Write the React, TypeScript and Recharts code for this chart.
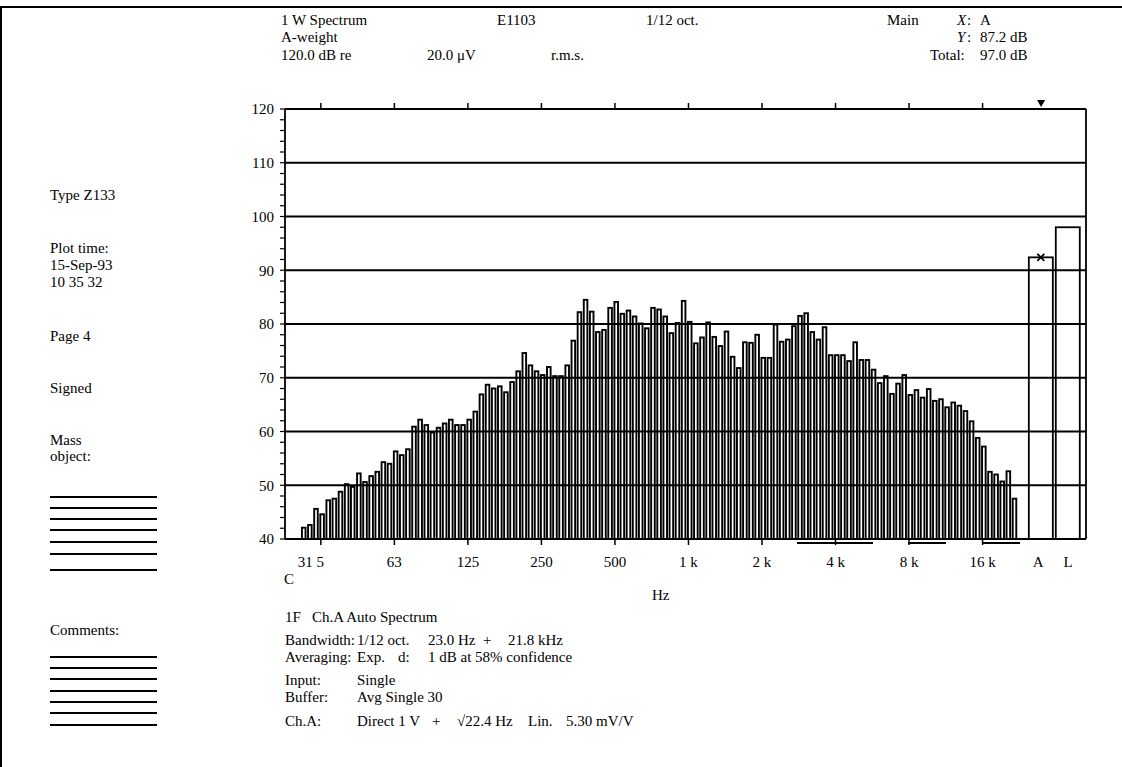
import React from 'react'
import { ComposedChart, Bar, XAxis, YAxis, ReferenceLine } from 'recharts'

// 1/12-octave band levels in dB, lowest band first
const bandLevels = [
  42.1, 42.6, 45.6, 44.6, 47.2, 47.5, 48.8, 50.2, 49.7, 52.2,
  50.6, 51.7, 52.5, 54.3, 54.0, 56.3, 55.6, 56.7, 60.9, 62.2,
  61.2, 59.8, 60.7, 61.5, 62.2, 61.2, 61.2, 62.2, 63.7, 66.9,
  68.7, 68.0, 68.4, 67.3, 69.2, 71.2, 74.6, 72.3, 71.2, 70.5,
  72.0, 70.3, 70.3, 72.3, 76.9, 82.2, 84.5, 82.3, 78.5, 78.9,
  83.0, 84.1, 81.9, 82.5, 81.4, 80.1, 79.2, 83.0, 82.7, 81.4,
  78.3, 80.2, 84.3, 80.4, 76.4, 77.5, 80.3, 77.6, 75.9, 78.6,
  73.9, 71.8, 76.6, 76.5, 78.0, 73.7, 73.7, 79.9, 76.7, 77.1,
  79.6, 81.5, 82.0, 78.5, 77.1, 79.4, 74.2, 74.2, 74.2, 73.1,
  76.6, 73.3, 73.3, 71.5, 69.0, 70.3, 67.0, 68.9, 70.5, 66.8,
  67.7, 66.3, 67.9, 65.7, 66.0, 64.5, 65.4, 64.8, 63.8, 61.9,
  58.8, 57.2, 52.5, 52.0, 50.7, 52.6, 47.5,
]

// overall levels drawn at the right of the spectrum
const totalLabels = ['A', 'L']
const totalLevels = [92.4, 98.0]
const totalPositions = [120.3, 124.7]

const octaveLabels = ['31 5', '63', '125', '250', '500', '1 k', '2 k', '4 k', '8 k', '16 k']
const octaveTicks = [2.75, 14.75, 26.75, 38.75, 50.75, 62.75, 74.75, 86.75, 98.75, 110.75]

const gridLevels = [50, 60, 70, 80, 90, 100, 110]
const yTicks = [
  40, 42, 44, 46, 48, 50, 52, 54, 56, 58, 60, 62, 64, 66, 68, 70, 72, 74, 76, 78, 80,
  82, 84, 86, 88, 90, 92, 94, 96, 98, 100, 102, 104, 106, 108, 110, 112, 114, 116, 118, 120,
]

const X_DOMAIN: [number, number] = [-3.1, 127.63]
const FONT = "'Liberation Serif', 'DejaVu Serif', serif"

const chartData = [
  ...bandLevels.map((level, i) => ({ idx: i, level, wide: false, cursor: false })),
  ...totalLevels.map((level, i) => ({ idx: totalPositions[i], level, wide: true, cursor: i === 0 })),
]

function BandShape(props: any) {
  const { x, y, width, height, payload } = props
  if (payload && payload.wide) {
    const cx = x + width / 2
    const w = 24
    return (
      <g>
        <rect x={cx - w / 2} y={y} width={w} height={height} fill="none" stroke="#000" strokeWidth={1.8} />
        {payload.cursor && (
          <g stroke="#000" strokeWidth={1.8}>
            <line x1={cx - 3.5} y1={y - 3.5} x2={cx + 3.5} y2={y + 3.5} />
            <line x1={cx - 3.5} y1={y + 3.5} x2={cx + 3.5} y2={y - 3.5} />
          </g>
        )}
      </g>
    )
  }
  return <rect x={x} y={y} width={width} height={height} fill="none" stroke="#000" strokeWidth={1.9} />
}

function BottomTick(props: any) {
  const { x, y, payload } = props
  const oi = octaveTicks.indexOf(payload.value)
  const ti = totalPositions.indexOf(payload.value)
  const label = oi >= 0 ? octaveLabels[oi] : ti >= 0 ? totalLabels[ti] : ''
  const dx = oi === 0 ? -10 : ti === 0 ? -3 : 0
  return (
    <g>
      {oi >= 0 && <line x1={x} y1={y} x2={x} y2={y + 6} stroke="#000" strokeWidth={1.5} />}
      <text x={x + dx} y={y + 28} textAnchor="middle" fill="#000" fontSize={15} fontFamily={FONT}>
        {label}
      </text>
    </g>
  )
}

function TopTick(props: any) {
  const { x, y, payload } = props
  if (totalPositions.indexOf(payload.value) >= 0) {
    return <path d={`M${x - 4},${y - 9} L${x + 4},${y - 9} L${x},${y - 2} Z`} fill="#000" />
  }
  return <line x1={x} y1={y} x2={x} y2={y - 6} stroke="#000" strokeWidth={1.5} />
}

function T({ x, y, children, italic }: { x: number; y: number; children: React.ReactNode; italic?: boolean }) {
  return (
    <div
      style={{
        position: 'absolute',
        left: x,
        top: y - 9,
        fontSize: 15,
        lineHeight: '18px',
        whiteSpace: 'pre',
        fontStyle: italic ? 'italic' : 'normal',
      }}
    >
      {children}
    </div>
  )
}

function Rule({ x, y, w, h = 1.6 }: { x: number; y: number; w: number; h?: number }) {
  return <div style={{ position: 'absolute', left: x, top: y, width: w, height: h, background: '#000' }} />
}

const massLines = [496, 507, 518, 529, 541, 553, 569]
const commentLines = [656, 667, 678, 690, 701, 712, 724]

export default function App() {
  return (
    <div
      style={{
        position: 'absolute',
        left: 0,
        top: 0,
        width: 1122,
        height: 767,
        background: '#fff',
        color: '#000',
        fontFamily: FONT,
        overflow: 'hidden',
      }}
    >
      {/* page frame */}
      <Rule x={0} y={6} w={1122} h={2} />
      <div style={{ position: 'absolute', left: 0, top: 6, width: 2, height: 761, background: '#000' }} />

      {/* header */}
      <T x={281} y={20}>1 W Spectrum</T>
      <T x={497} y={20}>E1103</T>
      <T x={646} y={20}>1/12 oct.</T>
      <T x={887} y={20}>Main</T>
      <T x={957} y={20} italic>X</T>
      <T x={967} y={20}>:</T>
      <T x={980} y={20}>A</T>
      <T x={281} y={37}>A-weight</T>
      <T x={957} y={37} italic>Y</T>
      <T x={967} y={37}>:</T>
      <T x={980} y={37}>87.2 dB</T>
      <T x={281} y={55}>120.0 dB re</T>
      <T x={427} y={55}>20.0 μV</T>
      <T x={551} y={55}>r.m.s.</T>
      <T x={930} y={55}>Total:</T>
      <T x={980} y={55}>97.0 dB</T>

      {/* left column */}
      <T x={50} y={195}>Type Z133</T>
      <T x={50} y={248}>Plot time:</T>
      <T x={50} y={265}>15-Sep-93</T>
      <T x={50} y={282}>10 35 32</T>
      <T x={50} y={336}>Page 4</T>
      <T x={50} y={388}>Signed</T>
      <T x={50} y={440}>Mass</T>
      <T x={50} y={456}>object:</T>
      {massLines.map((y) => (
        <Rule key={y} x={50} y={y} w={107} />
      ))}
      <T x={50} y={630}>Comments:</T>
      {commentLines.map((y) => (
        <Rule key={y} x={50} y={y} w={107} />
      ))}

      <div style={{ position: 'absolute', left: 0, top: 0 }}>
        <ComposedChart
          width={1122}
          height={767}
          data={chartData}
          margin={{ top: 99, right: 26, bottom: 168, left: 240 }}
        >
          <XAxis
            dataKey="idx"
            type="number"
            domain={X_DOMAIN}
            allowDataOverflow
            ticks={[...octaveTicks, ...totalPositions]}
            interval={0}
            tick={<BottomTick />}
            tickLine={false}
            tickSize={0}
            tickMargin={0}
            height={60}
            axisLine={{ stroke: '#000', strokeWidth: 1.8 }}
          />
          <XAxis
            xAxisId="top"
            orientation="top"
            dataKey="idx"
            type="number"
            domain={X_DOMAIN}
            allowDataOverflow
            ticks={[...octaveTicks, totalPositions[0]]}
            interval={0}
            tick={<TopTick />}
            tickLine={false}
            tickSize={0}
            tickMargin={0}
            height={10}
            axisLine={{ stroke: '#000', strokeWidth: 1.8 }}
          />
          <YAxis
            type="number"
            domain={[40, 120]}
            allowDataOverflow
            ticks={yTicks}
            interval={0}
            tickFormatter={(v: number) => (v % 10 === 0 ? String(v) : '')}
            width={45}
            tickSize={5}
            tickMargin={6}
            axisLine={{ stroke: '#000', strokeWidth: 1.8 }}
            tickLine={{ stroke: '#000', strokeWidth: 1.2 }}
            tick={{ fill: '#000', fontSize: 15, fontFamily: FONT }}
          />
          <YAxis
            yAxisId="right"
            orientation="right"
            type="number"
            domain={[40, 120]}
            allowDataOverflow
            ticks={yTicks}
            interval={0}
            tick={false}
            width={10}
            tickSize={4}
            axisLine={{ stroke: '#000', strokeWidth: 1.8 }}
            tickLine={{ stroke: '#000', strokeWidth: 1.2 }}
          />
          {gridLevels.map((v) => (
            <ReferenceLine key={v} y={v} stroke="#000" strokeWidth={1.8} />
          ))}
          <Bar dataKey="level" barSize={3.6} shape={<BandShape />} isAnimationActive={false} />
        </ComposedChart>
      </div>

      {/* band markers under the axis */}
      <Rule x={797} y={542} w={76} h={2} />
      <Rule x={908} y={542} w={38} h={2} />
      <Rule x={982} y={542} w={38} h={2} />

      <T x={284} y={579}>C</T>
      <T x={652} y={595}>Hz</T>

      {/* footer */}
      <T x={285} y={617}>1F   Ch.A Auto Spectrum</T>
      <T x={285} y={640}>Bandwidth:</T>
      <T x={357} y={640}>1/12 oct.</T>
      <T x={428} y={640}>23.0 Hz</T>
      <T x={483} y={640}>+</T>
      <T x={508} y={640}>21.8 kHz</T>
      <T x={285} y={657}>Averaging:</T>
      <T x={357} y={657}>Exp.</T>
      <T x={398} y={657}>d:</T>
      <T x={428} y={657}>1 dB at 58% confidence</T>
      <T x={285} y={680}>Input:</T>
      <T x={357} y={680}>Single</T>
      <T x={285} y={697}>Buffer:</T>
      <T x={357} y={697}>Avg Single 30</T>
      <T x={285} y={721}>Ch.A:</T>
      <T x={357} y={721}>Direct 1 V</T>
      <T x={432} y={721}>+</T>
      <T x={457} y={721}>√22.4 Hz</T>
      <T x={528} y={721}>Lin.</T>
      <T x={566} y={721}>5.30 mV/V</T>
    </div>
  )
}
